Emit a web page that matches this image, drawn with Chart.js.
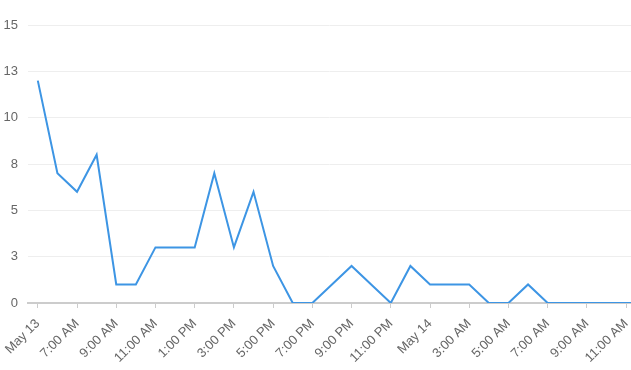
<!DOCTYPE html>
<html>
<head>
<meta charset="utf-8">
<script src="https://cdn.jsdelivr.net/npm/chart.js@4"></script>
<style>
  html, body { margin: 0; padding: 0; background: #fff; }
  #wrap { width: 631px; height: 370px; }
</style>
</head>
<body>
<div id="wrap"><canvas id="visitsChart"></canvas></div>
<script>
// hourly counts, starting at the "May 13" tick
const hours = [0, 1, 2, 3, 4, 5, 6, 7, 8, 9, 10, 11, 12, 13, 14, 15, 16, 17, 18, 19, 20, 21, 22, 23, 24, 25, 26, 27, 28, 29, 30, 31];
const counts = [12, 7, 6, 8, 1, 1, 3, 3, 3, 7, 3, 6, 2, 0, 0, 1, 2, 1, 0, 2, 1, 1, 1, 0, 0, 1, 0, 0, 0, 0, 0, 0];
// one label every two hours
const tickLabels = ["May 13", "7:00 AM", "9:00 AM", "11:00 AM", "1:00 PM", "3:00 PM", "5:00 PM", "7:00 PM",
  "9:00 PM", "11:00 PM", "May 14", "3:00 AM", "5:00 AM", "7:00 AM", "9:00 AM", "11:00 AM"];
const yTicks = [0, 2.5, 5, 7.5, 10, 12.5, 15];

const font = { family: "'Liberation Sans', Arial, sans-serif", size: 13 };

const ctx = document.getElementById("visitsChart").getContext("2d");
const myChart = new Chart(ctx, {
  type: "line",
  data: {
    datasets: [
      {
        data: hours.map((h, i) => ({ x: h, y: counts[i] })),
        borderColor: "#3d95e4",
        borderWidth: 2,
        pointRadius: 0,
        tension: 0,
        fill: false,
      },
    ],
  },
  options: {
    responsive: true,
    maintainAspectRatio: false,
    animation: false,
    layout: { padding: { top: 25, right: 0, left: 4, bottom: 0 } },
    plugins: { legend: { display: false }, tooltip: { enabled: false } },
    scales: {
      x: {
        type: "linear",
        min: -0.5,
        max: 30.25,
        afterBuildTicks: (scale) => {
          scale.ticks = tickLabels.map((_, i) => ({ value: i * 2 }));
        },
        afterFit: (scale) => {
          scale.height = 67;
          scale.paddingLeft = 0;
          scale.paddingRight = 0;
        },
        ticks: {
          callback: (v) => tickLabels[Math.round(v / 2)],
          minRotation: 45,
          maxRotation: 45,
          autoSkip: false,
          color: "#666",
          font: font,
          padding: 8,
        },
        grid: { drawOnChartArea: false, drawTicks: true, tickLength: 5, color: "#ccc" },
        border: { display: true, color: "#ccc", width: 2 },
      },
      y: {
        min: 0,
        max: 15,
        afterBuildTicks: (scale) => {
          scale.ticks = yTicks.map((v) => ({ value: v }));
        },
        afterFit: (scale) => {
          scale.width = 24;
          scale.paddingTop = 0;
          scale.paddingBottom = 0;
        },
        ticks: {
          callback: (v) => Math.round(v),
          color: "#666",
          font: font,
          padding: 10,
        },
        grid: { color: "#eee", drawTicks: false },
        border: { display: false },
      },
    },
  },
});
</script>
</body>
</html>
